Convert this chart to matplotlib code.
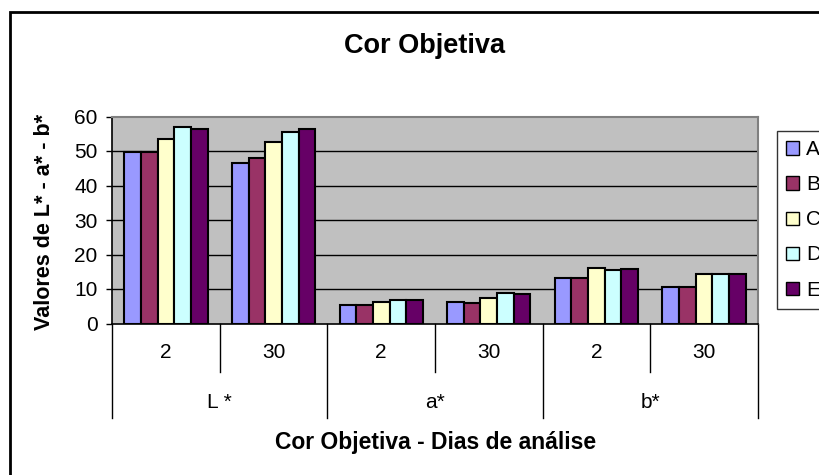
import matplotlib
matplotlib.use("Agg")
import matplotlib.pyplot as plt
from matplotlib.patches import Rectangle, Patch
import matplotlib.transforms as mtransforms
import numpy as np

plt.rcParams['font.family'] = ['Liberation Sans', 'DejaVu Sans']

title = "Cor Objetiva"
xlabel = "Cor Objetiva - Dias de análise"
ylabel = "Valores de L* - a* - b*"
groups = ["L *", "a*", "b*"]
days = ["2", "30", "2", "30", "2", "30"]
series = ["A", "B", "C", "D", "E"]
A = [49.6, 46.6, 5.4, 6.3, 13.3, 10.7]
B = [49.6, 48.0, 5.4, 5.9, 13.3, 10.7]
C = [53.5, 52.5, 6.3, 7.3, 16.2, 14.3]
D = [57.0, 55.4, 6.8, 8.9, 15.6, 14.3]
E = [56.4, 56.4, 6.8, 8.5, 15.7, 14.3]
values = [A, B, C, D, E]
colors = ["#9999FF", "#993366", "#FFFFCC", "#CCFFFF", "#660066"]
yticks = [0, 10, 20, 30, 40, 50, 60]

W, H = 820, 475
fig = plt.figure(figsize=(W / 100, H / 100), dpi=100)

def fx(x):
    return x / W

def fy(y):
    return 1 - y / H

# outer chart border
fig.patches.append(Rectangle((fx(10), fy(480)), fx(830) - fx(10), fy(12) - fy(480),
                             transform=fig.transFigure, fill=False,
                             edgecolor="black", linewidth=2.0, zorder=0))

left, right, top, bottom = 112.3, 757.7, 116.5, 323.5
ax = fig.add_axes([fx(left), fy(bottom), fx(right) - fx(left), fy(top) - fy(bottom)])
ax.set_facecolor("#C0C0C0")

n = len(days)
x = np.arange(n) + 0.5
bw = 0.155
for j, (vals, col, name) in enumerate(zip(values, colors, series)):
    ax.bar(x + (j - 2) * bw, vals, width=bw, color=col, edgecolor="black",
           linewidth=1.5, label=name, zorder=3)

ax.set_xlim(0, n)
ax.set_ylim(0, 60)
ax.set_yticks(yticks)
ax.set_yticklabels([str(t) for t in yticks], fontsize=15)
ax.tick_params(axis="y", direction="out", length=4.5, width=1, pad=6)
ax.set_xticks([])
for t in yticks[1:-1]:
    ax.axhline(t, color="black", linewidth=1, zorder=1)
for s in ["top", "right"]:
    ax.spines[s].set_color("#808080")
    ax.spines[s].set_linewidth(1.5)
for s in ["left", "bottom"]:
    ax.spines[s].set_color("black")
    ax.spines[s].set_linewidth(1.2)

# category axis (two levels)
trans = mtransforms.blended_transform_factory(ax.transData, fig.transFigure)
for i in range(n + 1):
    y_end = 418 if i % 2 == 0 else 372
    ax.plot([i, i], [fy(bottom), fy(y_end)], color="black", linewidth=1,
            transform=trans, clip_on=False)
for i, d in enumerate(days):
    ax.text(i + 0.5, fy(352), d, transform=trans, ha="center", va="center", fontsize=15)
for g, name in enumerate(groups):
    ax.text(2 * g + 1, fy(402), name, transform=trans, ha="center", va="center", fontsize=15)

fig.text(fx(436), fy(442), xlabel, ha="center", va="center", fontsize=16.5, fontweight="bold")
fig.text(fx(45), fy(222), ylabel, ha="center", va="center", rotation=90,
         fontsize=15.5, fontweight="bold")
fig.text(fx(425), fy(46), title, ha="center", va="center", fontsize=19.5, fontweight="bold")

handles = [Patch(facecolor=c, edgecolor="black", linewidth=1) for c in colors]
leg = fig.legend(handles, series, loc="upper left",
                 bbox_to_anchor=(fx(777), fy(131)), bbox_transform=fig.transFigure,
                 fontsize=15, frameon=True, fancybox=False, edgecolor="black",
                 handlelength=0.6, handleheight=0.6, handletextpad=0.35,
                 labelspacing=0.77, borderpad=0.45, borderaxespad=0)
leg.get_frame().set_linewidth(1)

fig.savefig("out.png", dpi=100)
